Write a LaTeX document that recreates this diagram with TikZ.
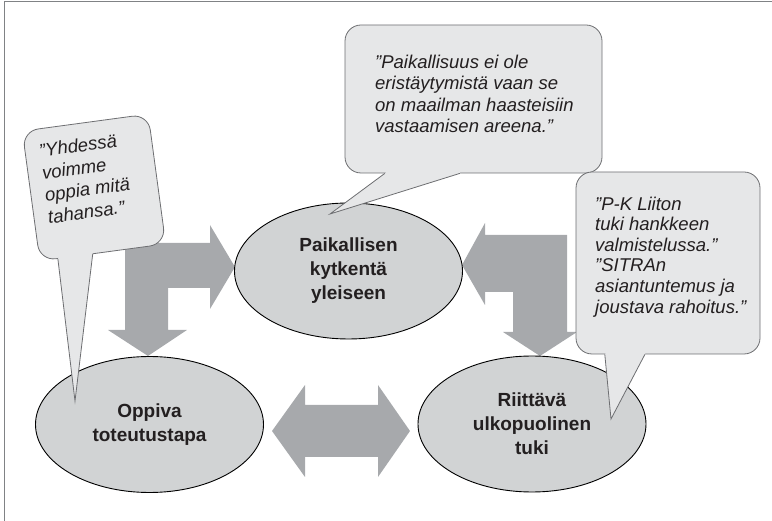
\documentclass[tikz,border=0pt]{standalone}
\usepackage{fontspec}
\setmainfont{Liberation Sans}
\usetikzlibrary{shapes.geometric,calc}
\definecolor{soikio}{HTML}{D1D3D4}
\definecolor{kuplavari}{HTML}{E6E7E8}
\definecolor{reuna}{HTML}{6D6E71}
\definecolor{nuolivari}{HTML}{A7A9AC}
\definecolor{teksti}{HTML}{231F20}
\definecolor{kehysvari}{HTML}{808285}
\tikzset{
  ovaali/.style={ellipse, draw=black, line width=0.9pt, fill=soikio, minimum width=228pt,
    minimum height=136pt, inner sep=0pt, align=center, text=teksti,
    font=\fontsize{19}{24}\selectfont\bfseries},
  kupla/.style={rectangle, rounded corners=16pt, draw=reuna, fill=kuplavari, line width=0.8pt, inner sep=0pt},
  lainaus/.style={align=left, inner sep=0pt, text=teksti, font=\fontsize{18.5}{21.5}\selectfont\itshape},
  nuoli/.style={fill=nuolivari},
  hanta/.style={draw=reuna, line width=0.8pt},
  kehys/.style={draw=kehysvari, line width=1pt}
}
\begin{document}
\begin{tikzpicture}[x=1pt,y=-1pt]
            \useasboundingbox (0,0) rectangle (772,521);
            \draw[kehys] (772,2) -- (4,2) -- (4,521);
            \fill[nuoli] (125,243) -- (210,243) -- (210,225) -- (235,267) -- (210,309) -- (210,288)
                -- (168,288) -- (168,330) -- (187,330) -- (148,356) -- (108,330) -- (125,330) -- cycle;
            \fill[nuoli] (567,235) -- (485,235) -- (485,223) -- (462,265) -- (485,305) -- (485,292)
                -- (513,292) -- (513,332) -- (503,332) -- (540,356) -- (577,332) -- (567,332) -- cycle;
            \fill[nuoli] (272,431) -- (305,385) -- (305,405) -- (378,405) -- (378,385) -- (410,431)
                -- (378,477) -- (378,457) -- (305,457) -- (305,477) -- cycle;
            \node[ovaali] (paik) at (348.5,271) {Paikallisen\\kytkentä\\yleiseen};
            \node[ovaali] (oppiva) at (149.5,424.5) {Oppiva\\toteutustapa};
            \node[ovaali] (tuki) at (532,424) {Riittävä\\ulkopuolinen\\tuki};
            \node[kupla, rotate=7.7, minimum width=127pt, minimum height=131pt] (kupla1) at (94,187.5) {};
            \node[kupla, minimum width=257pt, minimum height=148pt] (kupla2) at (473.5,99) {};
            \node[kupla, minimum width=184pt, minimum height=182pt] (kupla3) at (668,263) {};
            \coordinate (karki1) at (75,401);
            \coordinate (karki2) at (330,214);
            \coordinate (karki3) at (611,419);
            \foreach \k/\a/\b in {1/0.145/0.42, 2/0.156/0.447, 3/0.158/0.375}
                {
                    \coordinate (a\k) at ($(kupla\k.south west)!\a!(kupla\k.south east)$);
                    \coordinate (b\k) at ($(kupla\k.south west)!\b!(kupla\k.south east)$);
                    \fill[kuplavari] (a\k) -- (karki\k) -- (b\k) -- ($(b\k)!0.06!(kupla\k.center)$)
                        -- ($(a\k)!0.06!(kupla\k.center)$) -- cycle;
                    \draw[hanta] (a\k) -- (karki\k) -- (b\k);
                }
            \node[lainaus, rotate=7.7, anchor=north west, font=\fontsize{18.5}{22.3}\selectfont\itshape]
                (lainaus1) at (38,144) {”Yhdessä\\voimme\\oppia mitä\\tahansa.”};
            \node[lainaus, anchor=north west] (lainaus2) at (375,54.5)
                {”Paikallisuus ei ole\\eristäytymistä vaan se\\on maailman haasteisiin\\vastaamisen areena.”};
            \node[lainaus, anchor=north west, font=\fontsize{18.5}{20.6}\selectfont\itshape] (lainaus3) at (595,196.5)
                {”P-K Liiton\\tuki hankkeen\\valmistelussa.”\\”SITRAn\\asiantuntemus ja\\joustava rahoitus.”};
        \end{tikzpicture}
\end{document}
